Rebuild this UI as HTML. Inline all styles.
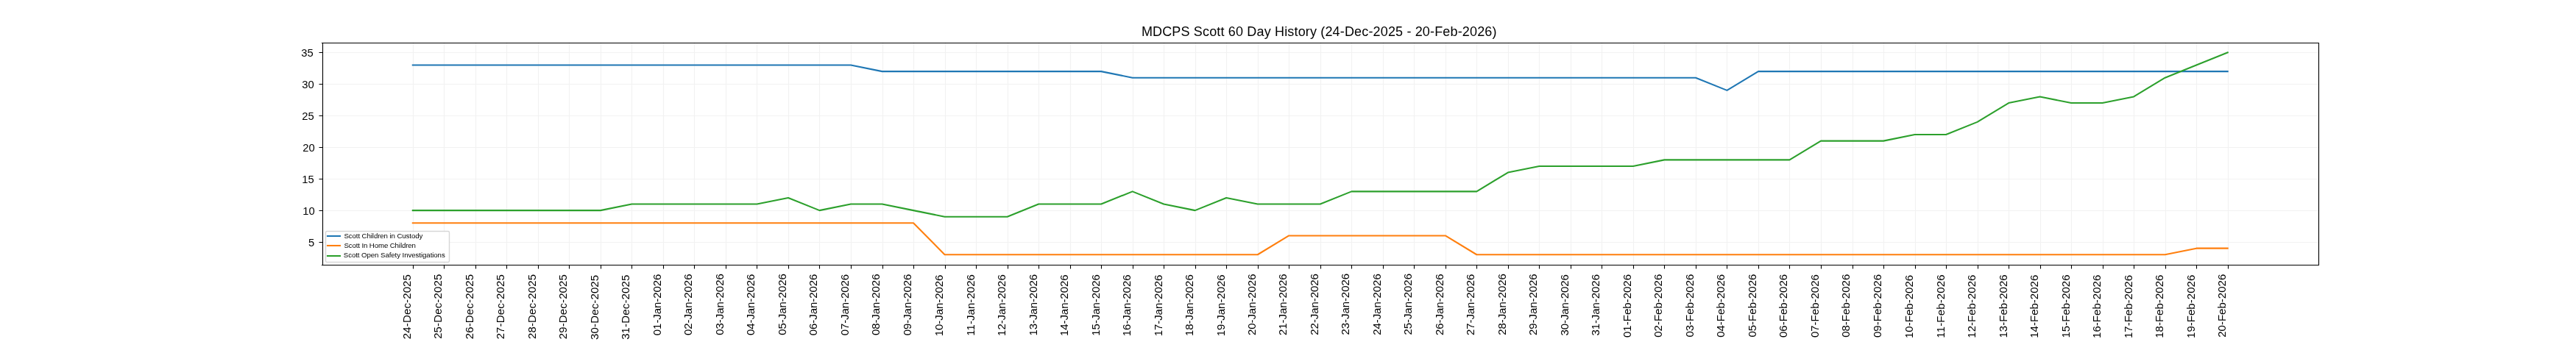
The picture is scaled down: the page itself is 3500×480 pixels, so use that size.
<!DOCTYPE html>
<html><head><meta charset="utf-8"><title>MDCPS Scott 60 Day History</title>
<style>
html,body{margin:0;padding:0;background:#fff;}
body{width:3500px;height:480px;overflow:hidden;}
svg{display:block;}
text{font-family:"Liberation Sans",sans-serif;fill:#000;}
</style></head><body>
<svg width="3500" height="480" viewBox="0 0 3500 480">
<rect x="0" y="0" width="3500" height="480" fill="#fff"/>
<path d="M561.5 57.6V360M603.5 57.6V360M646.5 57.6V360M688.5 57.6V360M731.5 57.6V360M773.5 57.6V360M816.5 57.6V360M858.5 57.6V360M901.5 57.6V360M943.5 57.6V360M986.5 57.6V360M1028.5 57.6V360M1071.5 57.6V360M1113.5 57.6V360M1156.5 57.6V360M1199.5 57.6V360M1241.5 57.6V360M1284.5 57.6V360M1326.5 57.6V360M1369.5 57.6V360M1411.5 57.6V360M1454.5 57.6V360M1496.5 57.6V360M1539.5 57.6V360M1581.5 57.6V360M1624.5 57.6V360M1666.5 57.6V360M1709.5 57.6V360M1751.5 57.6V360M1794.5 57.6V360M1836.5 57.6V360M1879.5 57.6V360M1921.5 57.6V360M1964.5 57.6V360M2006.5 57.6V360M2049.5 57.6V360M2091.5 57.6V360M2134.5 57.6V360M2176.5 57.6V360M2219.5 57.6V360M2261.5 57.6V360M2304.5 57.6V360M2346.5 57.6V360M2389.5 57.6V360M2431.5 57.6V360M2474.5 57.6V360M2517.5 57.6V360M2559.5 57.6V360M2602.5 57.6V360M2644.5 57.6V360M2687.5 57.6V360M2729.5 57.6V360M2772.5 57.6V360M2814.5 57.6V360M2857.5 57.6V360M2899.5 57.6V360M2942.5 57.6V360M2984.5 57.6V360M3027.5 57.6V360M437.5 329.5H3150M437.5 286.5H3150M437.5 243.5H3150M437.5 200.5H3150M437.5 157.5H3150M437.5 114.5H3150M437.5 71.5H3150" stroke="#f2f2f2" stroke-width="1.200" fill="none"/>
<path d="M560.80 88.53 L603.31 88.53 L645.83 88.53 L688.34 88.53 L730.86 88.53 L773.37 88.53 L815.89 88.53 L858.41 88.53 L900.92 88.53 L943.44 88.53 L985.95 88.53 L1028.47 88.53 L1070.98 88.53 L1113.50 88.53 L1156.01 88.53 L1198.53 97.12 L1241.05 97.12 L1283.56 97.12 L1326.08 97.12 L1368.59 97.12 L1411.11 97.12 L1453.62 97.12 L1496.14 97.12 L1538.66 105.71 L1581.17 105.71 L1623.69 105.71 L1666.20 105.71 L1708.72 105.71 L1751.23 105.71 L1793.75 105.71 L1836.27 105.71 L1878.78 105.71 L1921.30 105.71 L1963.81 105.71 L2006.33 105.71 L2048.84 105.71 L2091.36 105.71 L2133.88 105.71 L2176.39 105.71 L2218.91 105.71 L2261.42 105.71 L2303.94 105.71 L2346.45 122.89 L2388.97 97.12 L2431.49 97.12 L2474.00 97.12 L2516.52 97.12 L2559.03 97.12 L2601.55 97.12 L2644.06 97.12 L2686.58 97.12 L2729.09 97.12 L2771.61 97.12 L2814.13 97.12 L2856.64 97.12 L2899.16 97.12 L2941.67 97.12 L2984.19 97.12 L3026.70 97.12" stroke="#1f77b4" stroke-width="2.083" fill="none" stroke-linecap="square" stroke-linejoin="round"/>
<path d="M560.80 303.30 L603.31 303.30 L645.83 303.30 L688.34 303.30 L730.86 303.30 L773.37 303.30 L815.89 303.30 L858.41 303.30 L900.92 303.30 L943.44 303.30 L985.95 303.30 L1028.47 303.30 L1070.98 303.30 L1113.50 303.30 L1156.01 303.30 L1198.53 303.30 L1241.05 303.30 L1283.56 346.25 L1326.08 346.25 L1368.59 346.25 L1411.11 346.25 L1453.62 346.25 L1496.14 346.25 L1538.66 346.25 L1581.17 346.25 L1623.69 346.25 L1666.20 346.25 L1708.72 346.25 L1751.23 320.48 L1793.75 320.48 L1836.27 320.48 L1878.78 320.48 L1921.30 320.48 L1963.81 320.48 L2006.33 346.25 L2048.84 346.25 L2091.36 346.25 L2133.88 346.25 L2176.39 346.25 L2218.91 346.25 L2261.42 346.25 L2303.94 346.25 L2346.45 346.25 L2388.97 346.25 L2431.49 346.25 L2474.00 346.25 L2516.52 346.25 L2559.03 346.25 L2601.55 346.25 L2644.06 346.25 L2686.58 346.25 L2729.09 346.25 L2771.61 346.25 L2814.13 346.25 L2856.64 346.25 L2899.16 346.25 L2941.67 346.25 L2984.19 337.66 L3026.70 337.66" stroke="#ff7f0e" stroke-width="2.083" fill="none" stroke-linecap="square" stroke-linejoin="round"/>
<path d="M560.80 286.12 L603.31 286.12 L645.83 286.12 L688.34 286.12 L730.86 286.12 L773.37 286.12 L815.89 286.12 L858.41 277.53 L900.92 277.53 L943.44 277.53 L985.95 277.53 L1028.47 277.53 L1070.98 268.94 L1113.50 286.12 L1156.01 277.53 L1198.53 277.53 L1241.05 286.12 L1283.56 294.71 L1326.08 294.71 L1368.59 294.71 L1411.11 277.53 L1453.62 277.53 L1496.14 277.53 L1538.66 260.35 L1581.17 277.53 L1623.69 286.12 L1666.20 268.94 L1708.72 277.53 L1751.23 277.53 L1793.75 277.53 L1836.27 260.35 L1878.78 260.35 L1921.30 260.35 L1963.81 260.35 L2006.33 260.35 L2048.84 234.57 L2091.36 225.98 L2133.88 225.98 L2176.39 225.98 L2218.91 225.98 L2261.42 217.39 L2303.94 217.39 L2346.45 217.39 L2388.97 217.39 L2431.49 217.39 L2474.00 191.62 L2516.52 191.62 L2559.03 191.62 L2601.55 183.03 L2644.06 183.03 L2686.58 165.85 L2729.09 140.07 L2771.61 131.48 L2814.13 140.07 L2856.64 140.07 L2899.16 131.48 L2941.67 105.71 L2984.19 88.53 L3026.70 71.35" stroke="#2ca02c" stroke-width="2.083" fill="none" stroke-linecap="square" stroke-linejoin="round"/>
<path d="M438.5 57.9V361.06M3150.5 57.9V361.06M436.94 58.5H3151.06M436.94 360.5H3151.06" stroke="#000" stroke-width="1.111" fill="none"/>
<path d="M561.5 360V365.5M603.5 360V365.5M646.5 360V365.5M688.5 360V365.5M731.5 360V365.5M773.5 360V365.5M816.5 360V365.5M858.5 360V365.5M901.5 360V365.5M943.5 360V365.5M986.5 360V365.5M1028.5 360V365.5M1071.5 360V365.5M1113.5 360V365.5M1156.5 360V365.5M1199.5 360V365.5M1241.5 360V365.5M1284.5 360V365.5M1326.5 360V365.5M1369.5 360V365.5M1411.5 360V365.5M1454.5 360V365.5M1496.5 360V365.5M1539.5 360V365.5M1581.5 360V365.5M1624.5 360V365.5M1666.5 360V365.5M1709.5 360V365.5M1751.5 360V365.5M1794.5 360V365.5M1836.5 360V365.5M1879.5 360V365.5M1921.5 360V365.5M1964.5 360V365.5M2006.5 360V365.5M2049.5 360V365.5M2091.5 360V365.5M2134.5 360V365.5M2176.5 360V365.5M2219.5 360V365.5M2261.5 360V365.5M2304.5 360V365.5M2346.5 360V365.5M2389.5 360V365.5M2431.5 360V365.5M2474.5 360V365.5M2517.5 360V365.5M2559.5 360V365.5M2602.5 360V365.5M2644.5 360V365.5M2687.5 360V365.5M2729.5 360V365.5M2772.5 360V365.5M2814.5 360V365.5M2857.5 360V365.5M2899.5 360V365.5M2942.5 360V365.5M2984.5 360V365.5M3027.5 360V365.5M438 329.5H433.5M438 286.5H433.5M438 243.5H433.5M438 200.5H433.5M438 157.5H433.5M438 114.5H433.5M438 71.5H433.5" stroke="#000" stroke-width="1.111" fill="none"/>
<rect x="442.5" y="314.5" width="168" height="42" rx="1.67" fill="#fff" fill-opacity="0.8" stroke="#ccc" stroke-opacity="0.8" stroke-width="1.389"/>
<path d="M445 321H462" stroke="#1f77b4" stroke-width="2.0833" stroke-linecap="square"/>
<path d="M445 334H462" stroke="#ff7f0e" stroke-width="2.0833" stroke-linecap="square"/>
<path d="M445 348H462" stroke="#2ca02c" stroke-width="2.0833" stroke-linecap="square"/>
<g opacity="0.999">
<text x="1550.89" y="49.27" font-size="18.0" textLength="482.62" lengthAdjust="spacing">MDCPS Scott 60 Day History (24-Dec-2025 - 20-Feb-2026)</text>
<text x="419.03" y="334.57" font-size="14.8" textLength="7.75" lengthAdjust="spacing">5</text>
<text x="411.15" y="292.07" font-size="14.8" textLength="16.62" lengthAdjust="spacing">10</text>
<text x="410.15" y="248.6" font-size="14.8" textLength="16.62" lengthAdjust="spacing">15</text>
<text x="411.28" y="206.13" font-size="14.8" textLength="16.5" lengthAdjust="spacing">20</text>
<text x="410.28" y="162.79" font-size="14.8" textLength="16.5" lengthAdjust="spacing">25</text>
<text x="410.28" y="120.18" font-size="14.8" textLength="16.5" lengthAdjust="spacing">30</text>
<text x="409.28" y="77.32" font-size="14.8" textLength="16.5" lengthAdjust="spacing">35</text>
<text transform="translate(557.8 461.16) rotate(-90)" font-size="15.0" textLength="88.12" lengthAdjust="spacing">24-Dec-2025</text>
<text transform="translate(600.31 460.85) rotate(-90)" font-size="15.0" textLength="88.12" lengthAdjust="spacing">25-Dec-2025</text>
<text transform="translate(642.83 461.26) rotate(-90)" font-size="15.0" textLength="88.25" lengthAdjust="spacing">26-Dec-2025</text>
<text transform="translate(685.34 461.37) rotate(-90)" font-size="15.0" textLength="88.12" lengthAdjust="spacing">27-Dec-2025</text>
<text transform="translate(727.86 461.1) rotate(-90)" font-size="15.0" textLength="88.25" lengthAdjust="spacing">28-Dec-2025</text>
<text transform="translate(770.37 461.29) rotate(-90)" font-size="15.0" textLength="88.25" lengthAdjust="spacing">29-Dec-2025</text>
<text transform="translate(812.89 461.92) rotate(-90)" font-size="15.0" textLength="88.12" lengthAdjust="spacing">30-Dec-2025</text>
<text transform="translate(855.41 461.87) rotate(-90)" font-size="15.0" textLength="88.25" lengthAdjust="spacing">31-Dec-2025</text>
<text transform="translate(897.92 456.17) rotate(-90)" font-size="15.0" textLength="83.62" lengthAdjust="spacing">01-Jan-2026</text>
<text transform="translate(940.44 456.01) rotate(-90)" font-size="15.0" textLength="83.5" lengthAdjust="spacing">02-Jan-2026</text>
<text transform="translate(982.95 455.74) rotate(-90)" font-size="15.0" textLength="83.5" lengthAdjust="spacing">03-Jan-2026</text>
<text transform="translate(1025.47 456.07) rotate(-90)" font-size="15.0" textLength="83.5" lengthAdjust="spacing">04-Jan-2026</text>
<text transform="translate(1067.98 455.73) rotate(-90)" font-size="15.0" textLength="83.5" lengthAdjust="spacing">05-Jan-2026</text>
<text transform="translate(1109.5 456.26) rotate(-90)" font-size="15.0" textLength="83.62" lengthAdjust="spacing">06-Jan-2026</text>
<text transform="translate(1153.01 456.33) rotate(-90)" font-size="15.0" textLength="83.5" lengthAdjust="spacing">07-Jan-2026</text>
<text transform="translate(1194.53 456.11) rotate(-90)" font-size="15.0" textLength="83.62" lengthAdjust="spacing">08-Jan-2026</text>
<text transform="translate(1238.05 456.32) rotate(-90)" font-size="15.0" textLength="83.62" lengthAdjust="spacing">09-Jan-2026</text>
<text transform="translate(1280.56 457.23) rotate(-90)" font-size="15.0" textLength="83.62" lengthAdjust="spacing">10-Jan-2026</text>
<text transform="translate(1324.08 456.81) rotate(-90)" font-size="15.0" textLength="83.75" lengthAdjust="spacing">11-Jan-2026</text>
<text transform="translate(1365.59 456.88) rotate(-90)" font-size="15.0" textLength="83.62" lengthAdjust="spacing">12-Jan-2026</text>
<text transform="translate(1409.11 456.57) rotate(-90)" font-size="15.0" textLength="83.62" lengthAdjust="spacing">13-Jan-2026</text>
<text transform="translate(1450.62 457.07) rotate(-90)" font-size="15.0" textLength="83.62" lengthAdjust="spacing">14-Jan-2026</text>
<text transform="translate(1494.14 456.66) rotate(-90)" font-size="15.0" textLength="83.62" lengthAdjust="spacing">15-Jan-2026</text>
<text transform="translate(1535.66 457.19) rotate(-90)" font-size="15.0" textLength="83.75" lengthAdjust="spacing">16-Jan-2026</text>
<text transform="translate(1579.17 457.3) rotate(-90)" font-size="15.0" textLength="83.62" lengthAdjust="spacing">17-Jan-2026</text>
<text transform="translate(1620.69 457) rotate(-90)" font-size="15.0" textLength="83.75" lengthAdjust="spacing">18-Jan-2026</text>
<text transform="translate(1664.2 457.18) rotate(-90)" font-size="15.0" textLength="83.75" lengthAdjust="spacing">19-Jan-2026</text>
<text transform="translate(1705.72 456) rotate(-90)" font-size="15.0" textLength="83.5" lengthAdjust="spacing">20-Jan-2026</text>
<text transform="translate(1748.23 455.93) rotate(-90)" font-size="15.0" textLength="83.62" lengthAdjust="spacing">21-Jan-2026</text>
<text transform="translate(1790.75 455.65) rotate(-90)" font-size="15.0" textLength="83.5" lengthAdjust="spacing">22-Jan-2026</text>
<text transform="translate(1833.27 455.47) rotate(-90)" font-size="15.0" textLength="83.5" lengthAdjust="spacing">23-Jan-2026</text>
<text transform="translate(1875.78 455.76) rotate(-90)" font-size="15.0" textLength="83.5" lengthAdjust="spacing">24-Jan-2026</text>
<text transform="translate(1918.3 455.52) rotate(-90)" font-size="15.0" textLength="83.5" lengthAdjust="spacing">25-Jan-2026</text>
<text transform="translate(1960.81 456.01) rotate(-90)" font-size="15.0" textLength="83.62" lengthAdjust="spacing">26-Jan-2026</text>
<text transform="translate(2003.33 456.07) rotate(-90)" font-size="15.0" textLength="83.5" lengthAdjust="spacing">27-Jan-2026</text>
<text transform="translate(2045.84 455.82) rotate(-90)" font-size="15.0" textLength="83.62" lengthAdjust="spacing">28-Jan-2026</text>
<text transform="translate(2088.36 456.04) rotate(-90)" font-size="15.0" textLength="83.62" lengthAdjust="spacing">29-Jan-2026</text>
<text transform="translate(2130.88 456.57) rotate(-90)" font-size="15.0" textLength="83.5" lengthAdjust="spacing">30-Jan-2026</text>
<text transform="translate(2173.39 456.62) rotate(-90)" font-size="15.0" textLength="83.62" lengthAdjust="spacing">31-Jan-2026</text>
<text transform="translate(2215.91 459.04) rotate(-90)" font-size="15.0" textLength="86.12" lengthAdjust="spacing">01-Feb-2026</text>
<text transform="translate(2258.42 458.77) rotate(-90)" font-size="15.0" textLength="86" lengthAdjust="spacing">02-Feb-2026</text>
<text transform="translate(2300.94 458.59) rotate(-90)" font-size="15.0" textLength="86" lengthAdjust="spacing">03-Feb-2026</text>
<text transform="translate(2343.45 458.83) rotate(-90)" font-size="15.0" textLength="86" lengthAdjust="spacing">04-Feb-2026</text>
<text transform="translate(2385.97 458.59) rotate(-90)" font-size="15.0" textLength="86" lengthAdjust="spacing">05-Feb-2026</text>
<text transform="translate(2428.49 459.01) rotate(-90)" font-size="15.0" textLength="86.12" lengthAdjust="spacing">06-Feb-2026</text>
<text transform="translate(2471 459.09) rotate(-90)" font-size="15.0" textLength="86" lengthAdjust="spacing">07-Feb-2026</text>
<text transform="translate(2512.52 458.87) rotate(-90)" font-size="15.0" textLength="86.12" lengthAdjust="spacing">08-Feb-2026</text>
<text transform="translate(2556.03 459.05) rotate(-90)" font-size="15.0" textLength="86.12" lengthAdjust="spacing">09-Feb-2026</text>
<text transform="translate(2598.55 460) rotate(-90)" font-size="15.0" textLength="86.12" lengthAdjust="spacing">10-Feb-2026</text>
<text transform="translate(2642.06 459.63) rotate(-90)" font-size="15.0" textLength="86.25" lengthAdjust="spacing">11-Feb-2026</text>
<text transform="translate(2683.58 459.69) rotate(-90)" font-size="15.0" textLength="86.12" lengthAdjust="spacing">12-Feb-2026</text>
<text transform="translate(2727.09 459.5) rotate(-90)" font-size="15.0" textLength="86.12" lengthAdjust="spacing">13-Feb-2026</text>
<text transform="translate(2768.61 459.81) rotate(-90)" font-size="15.0" textLength="86.12" lengthAdjust="spacing">14-Feb-2026</text>
<text transform="translate(2812.13 459.54) rotate(-90)" font-size="15.0" textLength="86.12" lengthAdjust="spacing">15-Feb-2026</text>
<text transform="translate(2853.64 459.98) rotate(-90)" font-size="15.0" textLength="86.25" lengthAdjust="spacing">16-Feb-2026</text>
<text transform="translate(2897.16 460.08) rotate(-90)" font-size="15.0" textLength="86.12" lengthAdjust="spacing">17-Feb-2026</text>
<text transform="translate(2938.67 459.86) rotate(-90)" font-size="15.0" textLength="86.25" lengthAdjust="spacing">18-Feb-2026</text>
<text transform="translate(2982.19 459.99) rotate(-90)" font-size="15.0" textLength="86.25" lengthAdjust="spacing">19-Feb-2026</text>
<text transform="translate(3023.7 458.77) rotate(-90)" font-size="15.0" textLength="86" lengthAdjust="spacing">20-Feb-2026</text>
<text x="467.44" y="323.83" font-size="9.7" textLength="106.87" lengthAdjust="spacing">Scott Children in Custody</text>
<text x="467.43" y="336.95" font-size="9.7" textLength="97.5" lengthAdjust="spacing">Scott In Home Children</text>
<text x="466.76" y="349.88" font-size="9.7" textLength="138" lengthAdjust="spacing">Scott Open Safety Investigations</text>
</g>
</svg>
</body></html>
